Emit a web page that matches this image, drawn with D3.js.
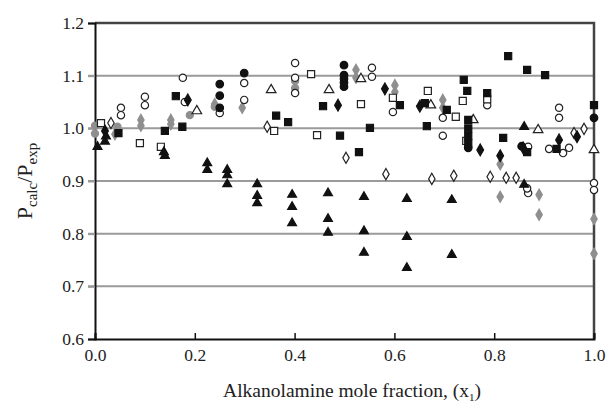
<!doctype html>
<html lang="en">
<head>
<meta charset="utf-8">
<title>Pcalc/Pexp vs alkanolamine mole fraction</title>
<script src="https://cdnjs.cloudflare.com/ajax/libs/d3/7.8.5/d3.min.js"></script>
<style>
  html, body { margin: 0; padding: 0; background: #fff; }
  svg { display: block; font-family: 'Liberation Serif', 'Times New Roman', serif; }
</style>
</head>
<body>
<svg id="chart" width="608" height="405"></svg>
<script>
// [x1, Pcalc/Pexp], one array per marker style
const filledTriangles = [
  [0.005, 0.965], [0.02, 0.975], [0.022, 0.985],
  [0.138, 0.955], [0.14, 0.948],
  [0.225, 0.934], [0.225, 0.921],
  [0.265, 0.921], [0.265, 0.911], [0.265, 0.894],
  [0.325, 0.894], [0.325, 0.872], [0.325, 0.858],
  [0.395, 0.874], [0.395, 0.851], [0.395, 0.82],
  [0.467, 0.877], [0.467, 0.828], [0.467, 0.802],
  [0.539, 0.87], [0.539, 0.805], [0.539, 0.764],
  [0.625, 0.866], [0.625, 0.794], [0.625, 0.735],
  [0.715, 0.864], [0.715, 0.76],
  [0.86, 1.003], [0.86, 0.893]
];
const filledSquares = [
  [0.047, 0.991], [0.14, 0.995], [0.175, 1.003], [0.162, 1.061],
  [0.363, 1.024], [0.387, 1.012], [0.457, 1.042], [0.491, 0.986],
  [0.529, 0.955], [0.551, 1.001], [0.611, 1.044], [0.661, 1.048],
  [0.665, 1.004], [0.705, 1.035], [0.739, 1.092], [0.746, 1.071],
  [0.786, 1.067], [0.748, 1.016], [0.748, 1.0], [0.748, 0.985],
  [0.748, 0.972], [0.818, 0.982], [0.828, 1.137], [0.866, 1.111],
  [0.902, 1.101], [0.866, 0.955], [0.925, 0.961], [1.0, 1.044]
];
const openSquares = [
  [0.012, 1.01], [0.09, 0.972], [0.132, 0.965], [0.359, 0.995],
  [0.433, 1.103], [0.445, 0.987], [0.533, 1.046], [0.597, 1.058],
  [0.667, 1.071], [0.737, 1.052], [0.723, 1.022], [0.744, 0.976],
  [0.786, 1.055]
];
const filledCircles = [
  [0.25, 1.084], [0.25, 1.062], [0.25, 1.039], [0.299, 1.105],
  [0.499, 1.12], [0.499, 1.101], [0.499, 1.094], [0.499, 1.087],
  [0.499, 1.079], [0.748, 0.963], [0.855, 0.966], [1.0, 1.02]
];
const openCircles = [
  [0.052, 1.039], [0.052, 1.025], [0.1, 1.06], [0.1, 1.044],
  [0.176, 1.096], [0.18, 1.05], [0.25, 1.029], [0.299, 1.086],
  [0.299, 1.054], [0.401, 1.124], [0.401, 1.096], [0.401, 1.067],
  [0.555, 1.115], [0.555, 1.098], [0.597, 1.031], [0.697, 1.02],
  [0.697, 0.986], [0.786, 1.044], [0.93, 1.039], [0.93, 1.02],
  [0.868, 0.965], [0.868, 0.877], [0.866, 0.886], [0.91, 0.961],
  [0.938, 0.953], [0.95, 0.963], [1.0, 0.896], [1.0, 0.883]
];
const openTriangles = [
  [0.204, 1.033], [0.353, 1.073], [0.469, 1.073], [0.533, 1.094],
  [0.673, 1.044], [0.758, 1.016], [0.888, 0.997], [1.0, 0.959]
];
const filledDiamonds = [
  [0.02, 0.995], [0.186, 1.054], [0.487, 1.044], [0.581, 1.075],
  [0.651, 1.042], [0.772, 0.959], [0.812, 0.948], [0.858, 0.963],
  [0.93, 0.978], [0.966, 0.984]
];
const openDiamonds = [
  [0.032, 1.01], [0.345, 1.003], [0.503, 0.944], [0.583, 0.913],
  [0.675, 0.904], [0.719, 0.91], [0.792, 0.908], [0.824, 0.906],
  [0.844, 0.906], [0.96, 0.991], [0.98, 0.999]
];
const grayDiamonds = [
  [0.04, 0.989], [0.092, 1.016], [0.092, 1.005], [0.152, 1.016],
  [0.152, 1.008], [0.24, 1.046], [0.295, 1.039], [0.523, 1.111],
  [0.523, 1.096], [0.601, 1.082], [0.601, 1.069], [0.697, 1.054],
  [0.697, 1.039], [0.812, 0.932], [0.812, 0.87], [0.89, 0.874],
  [0.89, 0.836], [1.0, 0.828], [1.0, 0.762]
];
const grayCircles = [
  [0.0, 1.005], [0.0, 0.99], [0.045, 1.003], [0.19, 1.025],
  [0.24, 1.041], [0.401, 1.09], [0.401, 1.076]
];

const xTicks = [0, 0.2, 0.4, 0.6, 0.8, 1.0];
const yTicks = [0.6, 0.7, 0.8, 0.9, 1.0, 1.1, 1.2];
const gridValues = [0.7, 0.8, 0.9, 1.0, 1.1];

const svg = d3.select("#chart");
const margin = {top: 23, right: 14, bottom: 66, left: 95};
const W = 608, H = 405;

const x = d3.scaleLinear().domain([0, 1]).range([margin.left, W - margin.right]);
const y = d3.scaleLinear().domain([0.6, 1.2]).range([H - margin.bottom, margin.top]);

// grid
svg.append("g").selectAll("line")
  .data(gridValues)
  .join("line")
  .attr("x1", margin.left - 7).attr("x2", W - margin.right)
  .attr("y1", d => y(d)).attr("y2", d => y(d))
  .attr("stroke", "#9a9a9a").attr("stroke-width", 2);

// frame: top and right in dark gray
svg.append("path")
  .attr("d", `M${margin.left},${margin.top}H${W - margin.right}V${H - margin.bottom}`)
  .attr("fill", "none").attr("stroke", "#444").attr("stroke-width", 2.5);

// axes
const yAxis = d3.axisLeft(y).tickValues(yTicks).tickFormat(d3.format(".1f")).tickSize(7).tickPadding(4);
const xAxis = d3.axisBottom(x).tickValues(xTicks).tickFormat(d3.format(".1f")).tickSize(-6).tickPadding(10);

const gy = svg.append("g").attr("transform", `translate(${margin.left},0)`).call(yAxis);
const gx = svg.append("g").attr("transform", `translate(0,${H - margin.bottom})`).call(xAxis);
[gx, gy].forEach(g => {
  g.select(".domain").attr("stroke", "#111").attr("stroke-width", 2);
  g.selectAll(".tick line").attr("stroke", "#111").attr("stroke-width", 1.5);
  g.selectAll(".tick text").attr("fill", "#222").attr("font-size", 17.5)
    .attr("font-family", "'Liberation Serif', 'Times New Roman', serif");
});
gy.selectAll(".tick").filter(d => d > 0.65 && d < 1.15).select("line").attr("stroke", "#9a9a9a").attr("stroke-width", 2);

// marker shapes
const sym = (type, size) => d3.symbol().type(type).size(size)();
const layers = [
  {data: grayDiamonds, path: sym(d3.symbolDiamond, 36), fill: "#8f8f8f", stroke: "#8f8f8f"},
  {data: grayCircles, path: sym(d3.symbolCircle, 40), fill: "#8f8f8f", stroke: "#8f8f8f"},
  {data: openDiamonds, path: sym(d3.symbolDiamond, 36), fill: "#fff", stroke: "#222"},
  {data: openCircles, path: sym(d3.symbolCircle, 42), fill: "#fff", stroke: "#222"},
  {data: openSquares, path: sym(d3.symbolSquare, 50), fill: "#fff", stroke: "#222"},
  {data: openTriangles, path: sym(d3.symbolTriangle, 40), fill: "#fff", stroke: "#222"},
  {data: filledSquares, path: sym(d3.symbolSquare, 50), fill: "#111", stroke: "#111"},
  {data: filledCircles, path: sym(d3.symbolCircle, 45), fill: "#111", stroke: "#111"},
  {data: filledDiamonds, path: sym(d3.symbolDiamond, 40), fill: "#111", stroke: "#111"},
  {data: filledTriangles, path: sym(d3.symbolTriangle, 34), fill: "#111", stroke: "#111"}
];

layers.forEach(l => {
  svg.append("g").selectAll("path")
    .data(l.data)
    .join("path")
    .attr("d", l.path)
    .attr("transform", d => `translate(${x(d[0])},${y(d[1])})`)
    .attr("fill", l.fill)
    .attr("stroke", l.stroke)
    .attr("stroke-width", 1.2);
});

// axis titles
const xt = svg.append("text")
  .attr("x", 352).attr("y", 397)
  .attr("text-anchor", "middle").attr("font-size", 19.5).attr("fill", "#222")
  .text("Alkanolamine mole fraction, (x");
xt.append("tspan").attr("font-size", 11).attr("dy", 4).text("1");
xt.append("tspan").attr("dy", -4).text(")");

const yt = svg.append("text")
  .attr("transform", `translate(32,${(margin.top + H - margin.bottom) / 2}) rotate(-90)`)
  .attr("text-anchor", "middle").attr("font-size", 22).attr("fill", "#222")
  .text("P");
yt.append("tspan").attr("font-size", 15).attr("dy", 5).text("calc");
yt.append("tspan").attr("dy", -5).text("/P");
yt.append("tspan").attr("font-size", 15).attr("dy", 5).text("exp");
</script>
</body>
</html>
